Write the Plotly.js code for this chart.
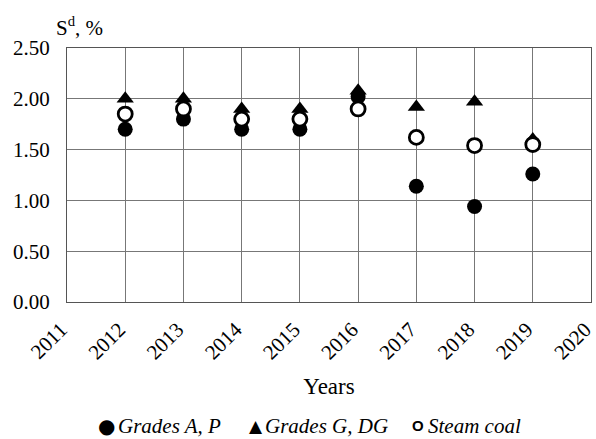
<!DOCTYPE html>
<html>
<head>
<meta charset="utf-8">
<script src="https://cdn.plot.ly/plotly-3.0.1.min.js"></script>
<style>
  html, body { margin: 0; padding: 0; background: #fff; }
  #chart { width: 596px; height: 439px; }
</style>
</head>
<body>
<div id="chart"></div>
<script>
// Sulphur content (dry basis) by year for coal grades
const years = [2012, 2013, 2014, 2015, 2016, 2017, 2018, 2019];
const gradesAP = [1.70, 1.80, 1.70, 1.70, 2.02, 1.14, 0.94, 1.26];
const gradesGDG = [2.00, 2.00, 1.90, 1.90, 2.08, 1.92, 1.97, 1.60];
const steamCoal = [1.85, 1.90, 1.80, 1.80, 1.90, 1.62, 1.54, 1.55];
const seriesNames = ['Grades A, P', 'Grades G, DG', 'Steam coal'];
const xTicks = [2011, 2012, 2013, 2014, 2015, 2016, 2017, 2018, 2019, 2020];
const yTicks = [0, 0.5, 1.0, 1.5, 2.0, 2.5];
const yTickText = ['0.00', '0.50', '1.00', '1.50', '2.00', '2.50'];

const serif = 'Liberation Serif, Times New Roman, serif';
const sans = 'DejaVu Sans, sans-serif';

const traces = [
  {
    x: years, y: gradesAP, name: seriesNames[0], type: 'scatter', mode: 'markers',
    marker: { symbol: 'circle', size: 15, color: '#000' }
  },
  {
    x: years, y: gradesGDG, name: seriesNames[1], type: 'scatter', mode: 'markers',
    marker: { symbol: 'triangle-up', size: 15, color: '#000' }
  },
  {
    x: years, y: steamCoal, name: seriesNames[2], type: 'scatter', mode: 'markers',
    marker: { symbol: 'circle', size: 14, color: '#fff', line: { color: '#000', width: 2.8 } }
  }
];

// Legend row below the axis title: a symbol followed by the italic series name
const legendY = -0.488;
const plotLeft = 67, plotWidth = 524;
const px = p => (p - plotLeft) / plotWidth;
const legendItems = [
  { glyph: '●', gfont: { family: sans, size: 20 }, gx: 96, tx: 116, name: seriesNames[0] },
  { glyph: '▲', gfont: { family: sans, size: 17 }, gx: 247, tx: 263, name: seriesNames[1] },
  { glyph: 'O', gfont: { family: 'Liberation Sans, Arial, sans-serif', size: 15, weight: 'bold' }, gx: 410, tx: 426, name: seriesNames[2] }
];
const legendAnn = [];
legendItems.forEach(it => {
  legendAnn.push({
    text: it.glyph, xref: 'paper', yref: 'paper', x: px(it.gx), y: legendY,
    xanchor: 'left', yanchor: 'middle', showarrow: false,
    font: Object.assign({ color: '#000' }, it.gfont)
  });
  legendAnn.push({
    text: '<i>' + it.name + '</i>', xref: 'paper', yref: 'paper', x: px(it.tx), y: legendY,
    xanchor: 'left', yanchor: 'middle', showarrow: false,
    font: { family: serif, size: 21, color: '#000' }
  });
});

const layout = {
  width: 596, height: 439,
  margin: { l: 67, r: 5, t: 48, b: 137 },
  paper_bgcolor: '#fff', plot_bgcolor: '#fff',
  font: { family: serif, size: 21, color: '#000' },
  showlegend: false,
  xaxis: {
    range: [2011, 2020], tickvals: xTicks,
    tickangle: -45, showgrid: true, gridcolor: '#777', gridwidth: 1,
    showline: true, linecolor: '#555', linewidth: 1, mirror: true,
    zeroline: false, ticks: '', ticklabelstandoff: 6, ticklabelshift: -6,
    tickfont: { family: serif, size: 21 },
    title: { text: 'Years', font: { family: serif, size: 23 }, standoff: 14 }
  },
  yaxis: {
    range: [0, 2.5], tickvals: yTicks, ticktext: yTickText,
    showgrid: true, gridcolor: '#777', gridwidth: 1,
    showline: true, linecolor: '#555', linewidth: 1, mirror: true,
    zeroline: false, ticks: '', ticklabelstandoff: 12,
    tickfont: { family: serif, size: 21 }
  },
  annotations: [{
    text: 'S<sup>d</sup>, %', xref: 'paper', yref: 'paper',
    x: -0.024, y: 1.0, xanchor: 'left', yanchor: 'bottom', yshift: 6,
    showarrow: false, font: { family: serif, size: 21, color: '#000' }
  }].concat(legendAnn)
};

Plotly.newPlot('chart', traces, layout, { displayModeBar: false, staticPlot: true });
</script>
</body>
</html>
